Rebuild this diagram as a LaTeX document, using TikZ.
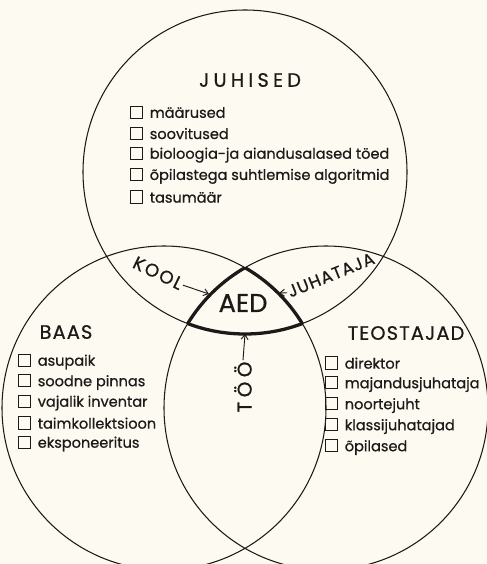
\documentclass[tikz,border=0pt]{standalone}
\usepackage{fontspec}
\setmainfont{Poppins}[FakeBold=0.7]
\newfontfamily\laiali[LetterSpace=10,FakeBold=0.7]{Poppins}
\newfontfamily\vaga[LetterSpace=22,FakeBold=0.7]{Poppins}
\newfontfamily\veidi[LetterSpace=6,FakeBold=0.7]{Poppins}
\usetikzlibrary{arrows.meta}

\definecolor{paber}{RGB}{252,250,241}
\definecolor{tint}{RGB}{28,26,24}

% ruuduke loendi ees
\newcommand{\kast}{{\setlength{\fboxsep}{0pt}\setlength{\fboxrule}{0.8pt}%
  \fbox{\rule{0pt}{9.6pt}\rule{9.6pt}{0pt}}}\hspace{5.5pt}}

\tikzset{
  ring/.style={draw=tint, line width=0.9pt},
  aedjoon/.style={draw=tint, line width=2.8pt},
  pealkiri/.style={text=tint, font=\veidi\fontsize{16.5}{18}\selectfont},
  rida/.style={anchor=west, inner sep=0pt, text=tint, font=\fontsize{12.4}{14}\selectfont},
  silt/.style={text=tint, inner sep=1pt, font=\laiali\fontsize{15.5}{17}\selectfont},
  pil/.style={-{Straight Barb[length=4pt,width=6pt]}, draw=tint, line width=0.8pt},
}

\begin{document}
\begin{tikzpicture}[x=0.03cm,y=-0.03cm]
  \fill[paber] (0,0) rectangle (487,564);
  \useasboundingbox (0,0) rectangle (487,564);

  \coordinate (T) at (245,172);
  \coordinate (L) at (164,408);
  \coordinate (R) at (326,408);
  \draw[ring] (T) circle[radius=162] (L) circle[radius=162] (R) circle[radius=162];

  % AED piir: iga ring kahe teise sees
  \begin{scope}
    \clip (L) circle[radius=162]; \clip (R) circle[radius=162];
    \draw[aedjoon] (T) circle[radius=162];
  \end{scope}
  \begin{scope}
    \clip (T) circle[radius=162]; \clip (R) circle[radius=162];
    \draw[aedjoon] (L) circle[radius=162];
  \end{scope}
  \begin{scope}
    \clip (T) circle[radius=162]; \clip (L) circle[radius=162];
    \draw[aedjoon] (R) circle[radius=162];
  \end{scope}

  \node[text=tint, font=\fontsize{22}{24}\selectfont] (aed) at (243,303) {AED};

  % JUHISED
  \node[pealkiri, font=\vaga\fontsize{16.5}{18}\selectfont] (juhised) at (250,80) {JUHISED};
  \foreach \t [count=\i] in {määrused, soovitused, bioloogia-ja aiandusalased töed,
      õpilastega suhtlemise algoritmid, tasumäär}
    \node[rida] (j\i) at (130,{91+21.2*\i}) {\kast\t};

  % BAAS
  \node[pealkiri] (baas) at (66,332) {BAAS};
  \foreach \t [count=\i] in {asupaik, soodne pinnas, vajalik inventar,
      taimkollektsioon, eksponeeritus}
    \node[rida] (b\i) at (18,{341+20.5*\i}) {\kast\t};

  % TEOSTAJAD
  \node[pealkiri] (teostajad) at (406,333) {TEOSTAJAD};
  \foreach \t [count=\i] in {direktor, majandusjuhataja, noortejuht,
      klassijuhatajad, õpilased}
    \node[rida] (t\i) at (325,{342+21*\i}) {\kast\t};

  % sildid ja nooled
  \node[silt, rotate=-26] (kool) at (158,273) {KOOL};
  \node[silt, rotate=22, font=\veidi\fontsize{14.5}{16}\selectfont] (juhataja) at (331,275) {JUHATAJA};
  \node[silt, rotate=90, font=\vaga\fontsize{17}{19}\selectfont] (too) at (243,387) {TÖÖ};
  \coordinate (aedK) at (209,294);
  \coordinate (aedJ) at (279,293);
  \coordinate (aedT) at (245,334);
  \draw[pil] (kool.east) -- (aedK);
  \draw[pil] (juhataja.west) -- (aedJ);
  \draw[pil] (too.east) -- (aedT);
\end{tikzpicture}
\end{document}
